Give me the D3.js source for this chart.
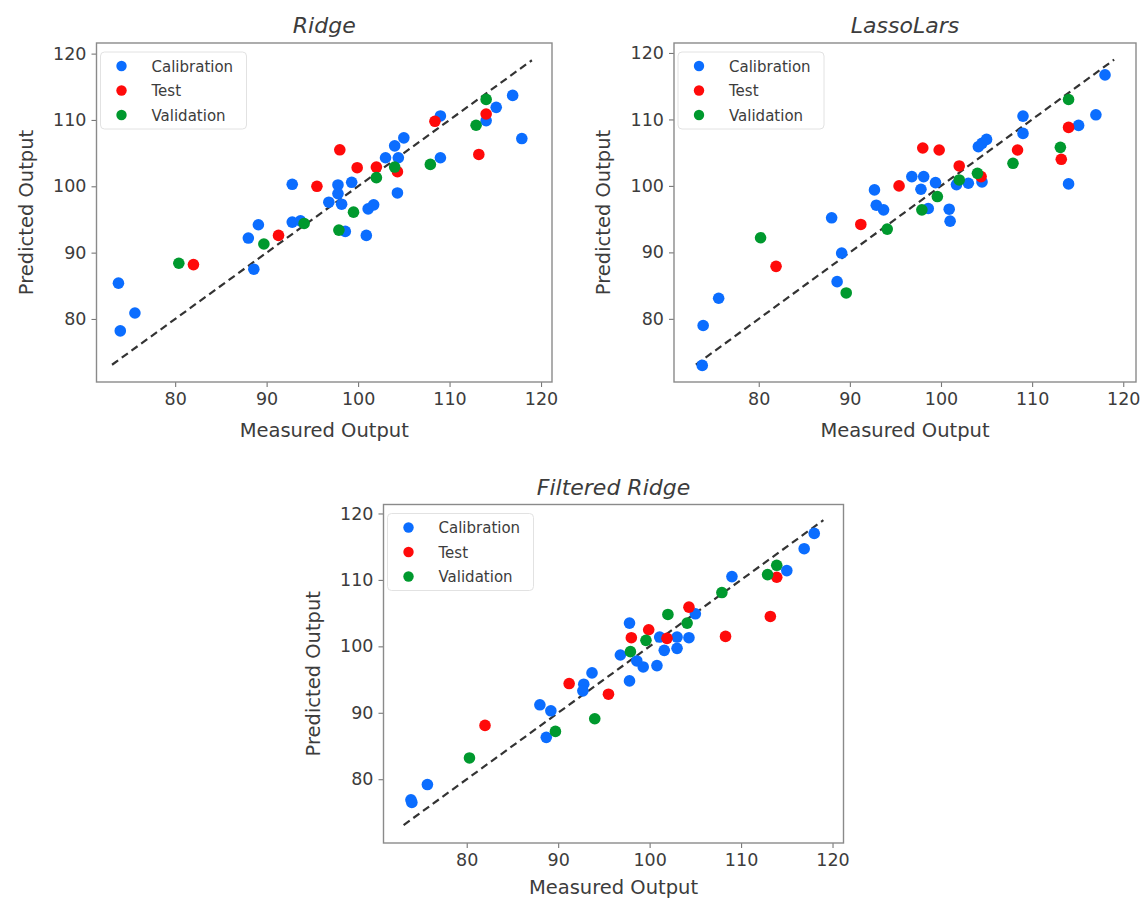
<!DOCTYPE html>
<html>
<head>
<meta charset="utf-8">
<script src="https://cdn.jsdelivr.net/npm/d3@7"></script>
<style>
  body { margin: 0; background: #fff; }
  svg { display: block; }
  text { font-family: "DejaVu Sans", sans-serif; fill: #3c3c3c; }
</style>
</head>
<body>
<svg id="chart" width="1143" height="900"></svg>
<script>
// ---------- data ----------
const seriesNames = ["Calibration", "Test", "Validation"];
const xTicks = [80, 90, 100, 110, 120];
const yTicks = [80, 90, 100, 110, 120];
const diagonal = [73.1, 119.0];

const ridgeCal = [[73.8,85.4],[74.0,78.2],[75.6,80.9],[88.0,92.2],[89.1,94.2],[88.6,87.5],[92.8,94.6],[93.7,94.8],[92.8,100.3],[96.8,97.6],[97.8,100.2],[97.8,98.9],[98.2,97.3],[99.3,100.6],[101.1,96.6],[101.7,97.2],[98.6,93.2],[100.9,92.6],[103.0,104.3],[104.0,106.1],[105.0,107.3],[104.4,104.3],[104.3,99.0],[109.0,110.6],[109.0,104.3],[114.0,109.9],[115.1,111.9],[116.9,113.7],[117.9,107.2]];
const ridgeTest = [[82.0,88.2],[91.3,92.6],[95.5,100.0],[98.0,105.5],[99.9,102.8],[102.0,102.9],[104.3,102.2],[108.4,109.8],[113.2,104.8],[114.0,110.9]];
const ridgeVal = [[80.4,88.4],[89.7,91.3],[94.1,94.4],[97.9,93.4],[99.5,96.1],[102.0,101.3],[104.0,102.9],[107.9,103.3],[112.9,109.2],[114.0,113.1]];

const lassoCal = [[73.8,73.0],[73.9,79.0],[75.6,83.1],[88.0,95.2],[89.1,89.9],[88.6,85.6],[92.7,99.4],[92.9,97.1],[93.7,96.4],[96.8,101.4],[98.1,101.4],[97.8,99.5],[99.4,100.5],[101.7,100.2],[103.0,100.4],[104.5,100.6],[104.1,105.9],[104.5,106.4],[105.0,107.0],[98.6,96.6],[100.9,96.5],[101.0,94.7],[109.0,110.5],[109.0,107.9],[114.0,100.3],[115.1,109.1],[117.0,110.7],[118.0,116.7]];
const lassoTest = [[81.9,87.9],[91.2,94.2],[95.4,100.0],[98.0,105.7],[99.8,105.4],[102.0,103.0],[104.4,101.4],[108.4,105.4],[113.2,104.0],[114.0,108.8]];
const lassoVal = [[80.2,92.2],[89.6,83.9],[94.1,93.5],[97.9,96.4],[99.6,98.4],[102.0,100.9],[104.0,101.9],[107.9,103.4],[113.1,105.8],[114.0,113.0]];

const filtCal = [[73.9,76.9],[74.0,76.5],[75.7,79.2],[88.0,91.2],[89.2,90.3],[88.7,86.3],[92.8,94.3],[92.7,93.3],[93.7,96.0],[97.8,94.8],[98.6,97.8],[99.3,96.9],[100.8,97.1],[97.8,103.5],[96.8,98.7],[101.1,101.4],[103.0,101.4],[101.6,99.4],[103.0,99.7],[104.3,101.3],[105.0,104.9],[109.0,110.5],[115.0,111.4],[116.9,114.7],[118.0,117.0]];
const filtTest = [[82.0,88.1],[91.2,94.4],[95.5,92.8],[98.0,101.3],[99.9,102.5],[101.9,101.2],[104.3,105.9],[108.3,101.5],[113.2,104.5],[113.9,110.4]];
const filtVal = [[80.3,83.2],[89.7,87.2],[94.0,89.1],[97.9,99.2],[99.6,100.9],[102.0,104.8],[104.1,103.5],[107.9,108.1],[112.9,110.8],[113.9,112.2]];

// ---------- layout ----------
const colors = ["#0b6dff", "#ff0a0a", "#00992e"];
const panels = [
  { title: "Ridge", series: [ridgeCal, ridgeTest, ridgeVal],
    xd: [71.4, 121.2], yd: [70.5, 121.6], box: [96.5, 43, 552, 382] },
  { title: "LassoLars", series: [lassoCal, lassoTest, lassoVal],
    xd: [70.7, 121.4], yd: [70.5, 121.5], box: [674, 43, 1136, 382] },
  { title: "Filtered Ridge", series: [filtCal, filtTest, filtVal],
    xd: [70.9, 121.2], yd: [70.4, 121.35], box: [383.5, 504.5, 843.5, 843] }
];

const svg = d3.select("#chart");

panels.forEach(p => {
  const [x0, y0, x1, y1] = p.box;
  const x = d3.scaleLinear().domain(p.xd).range([x0, x1]);
  const y = d3.scaleLinear().domain(p.yd).range([y1, y0]);
  const g = svg.append("g");

  // axes
  const xa = g.append("g").attr("transform", `translate(0,${y1})`)
    .call(d3.axisBottom(x).tickValues(xTicks).tickSize(5).tickPadding(6).tickFormat(d3.format("d")));
  const ya = g.append("g").attr("transform", `translate(${x0},0)`)
    .call(d3.axisLeft(y).tickValues(yTicks).tickSize(5).tickPadding(5).tickFormat(d3.format("d")));
  [xa, ya].forEach(a => {
    a.select(".domain").remove();
    a.selectAll("line").attr("stroke", "#777").attr("stroke-width", 1.1);
    a.selectAll("text").attr("font-size", 17.5).attr("fill", "#3c3c3c")
      .style("font-family", "'DejaVu Sans', sans-serif");
  });

  // frame
  g.append("rect").attr("x", x0).attr("y", y0).attr("width", x1 - x0).attr("height", y1 - y0)
    .attr("fill", "none").attr("stroke", "#8a8a8a").attr("stroke-width", 1.4);

  // diagonal
  g.append("line")
    .attr("x1", x(diagonal[0])).attr("y1", y(diagonal[0]))
    .attr("x2", x(diagonal[1])).attr("y2", y(diagonal[1]))
    .attr("stroke", "#333").attr("stroke-width", 2.2).attr("stroke-dasharray", "7.5,4.5");

  // points
  p.series.forEach((s, i) => {
    g.append("g").selectAll("circle").data(s).join("circle")
      .attr("cx", d => x(d[0])).attr("cy", d => y(d[1])).attr("r", 5.8)
      .attr("fill", colors[i]);
  });

  // title
  g.append("text").attr("x", (x0 + x1) / 2).attr("y", y0 - 10)
    .attr("text-anchor", "middle").attr("font-size", 22).attr("font-style", "italic")
    .text(p.title);
  // x label
  g.append("text").attr("x", (x0 + x1) / 2).attr("y", Math.min(y1 + 55, 894))
    .attr("text-anchor", "middle").attr("font-size", 19.5).text("Measured Output");
  // y label
  g.append("text")
    .attr("transform", `translate(${x0 - 64},${(y0 + y1) / 2}) rotate(-90)`)
    .attr("text-anchor", "middle").attr("font-size", 19.5).text("Predicted Output");

  // legend
  const lg = g.append("g").attr("transform", `translate(${x0 + 4},${y0 + 9})`);
  lg.append("rect").attr("width", 146).attr("height", 77).attr("rx", 4)
    .attr("fill", "#fff").attr("fill-opacity", 0.85).attr("stroke", "#e2e2e2");
  seriesNames.forEach((n, i) => {
    const row = lg.append("g").attr("transform", `translate(0,${14 + i * 24.5})`);
    row.append("circle").attr("cx", 21).attr("cy", 0).attr("r", 5.2).attr("fill", colors[i]);
    row.append("text").attr("x", 51).attr("y", 5.5).attr("font-size", 15).attr("fill", "#444").text(n);
  });
});
</script>
</body>
</html>
